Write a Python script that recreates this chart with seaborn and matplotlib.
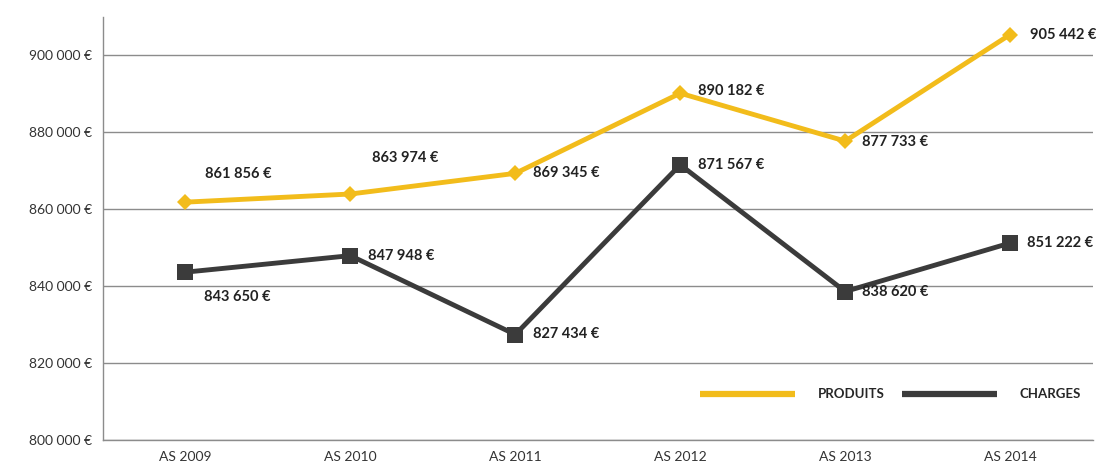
import pandas as pd
import numpy as np
import matplotlib.pyplot as plt
import seaborn as sns
from matplotlib.ticker import FuncFormatter, FixedLocator

years = ["AS 2009", "AS 2010", "AS 2011", "AS 2012", "AS 2013", "AS 2014"]
produits = [861856, 863974, 869345, 890182, 877733, 905442]
charges = [843650, 847948, 827434, 871567, 838620, 851222]
y_ticks = [800000, 820000, 840000, 860000, 880000, 900000]

# label offsets in pixels (dx, dy) for each point
off_produits = [(20, 28), (22, 36), (18, 0), (18, 2), (17, -1), (20, 0)]
off_charges = [(19, -25), (18, 0), (18, 1), (18, 0), (17, 0), (17, 0)]

YELLOW = "#F2BC1B"
DARK = "#3B3B3B"


def euro(v, pos=None):
    return f"{int(v):,}".replace(",", " ") + " €"


df = pd.DataFrame({
    "annee": years * 2,
    "valeur": produits + charges,
    "serie": ["PRODUITS"] * len(years) + ["CHARGES"] * len(years),
})
df["x"] = np.tile(np.arange(len(years)), 2)

sns.set_style("white")
plt.rcParams["font.family"] = ["Lato", "DejaVu Sans"]

fig = plt.figure(figsize=(11.07, 4.70), dpi=100)
ax = fig.add_axes([0.093, 0.0638, 0.894, 0.9])

sns.lineplot(
    data=df, x="x", y="valeur", hue="serie", style="serie",
    palette={"PRODUITS": YELLOW, "CHARGES": DARK},
    markers={"PRODUITS": "D", "CHARGES": "s"},
    dashes=False, linewidth=3.5, markeredgewidth=0,
    ax=ax, legend=False,
)
# marker sizes differ per series
for line, ms in zip(ax.lines, [8, 11]):
    line.set_markersize(ms)

for vals, offs in [(produits, off_produits), (charges, off_charges)]:
    for i, (v, (dx, dy)) in enumerate(zip(vals, offs)):
        ax.annotate(euro(v), (i, v), xytext=(dx, dy), textcoords="offset pixels",
                    ha="left", va="center", fontsize=10.5, fontweight="bold",
                    color="#222222")

ax.set_xlim(-0.5, len(years) - 0.5)
ax.set_ylim(800000, 910000)
ax.yaxis.set_major_locator(FixedLocator(y_ticks))
ax.yaxis.set_major_formatter(FuncFormatter(euro))
ax.set_xticks(range(len(years)))
ax.set_xticklabels(years)
ax.set_xticks(np.arange(-0.5, len(years)), minor=True)
ax.tick_params(axis="x", which="major", length=0, pad=8, labelsize=10, labelcolor="#333333")
ax.tick_params(axis="x", which="minor", length=4, color="#888888", direction="out")
ax.tick_params(axis="y", length=5, color="#888888", labelsize=10, labelcolor="#333333", pad=3)
ax.grid(axis="y", color="#8c8c8c", linewidth=1)
ax.set_axisbelow(True)
ax.set_xlabel("")
ax.set_ylabel("")

for s in ["top", "right"]:
    ax.spines[s].set_visible(False)
for s in ["left", "bottom"]:
    ax.spines[s].set_color("#8c8c8c")
    ax.spines[s].set_linewidth(1)

handles = [plt.Line2D([], [], color=YELLOW, lw=4.5, solid_capstyle="butt"),
           plt.Line2D([], [], color=DARK, lw=4.5, solid_capstyle="butt")]
ax.legend(handles, ["PRODUITS", "CHARGES"], ncol=2, frameon=False,
          loc="lower right", bbox_to_anchor=(1.0, 0.066),
          handlelength=7.2, columnspacing=1.3, handletextpad=1.7,
          prop={"weight": "bold", "size": 9.5})

fig.savefig("out.png", dpi=100)
